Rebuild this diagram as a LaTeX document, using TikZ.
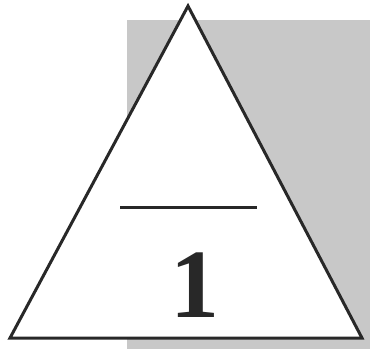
\documentclass[tikz,border=0pt]{standalone}
\usepackage{fontspec}
\setmainfont{Liberation Serif}
\definecolor{paper}{RGB}{200,200,200}
\definecolor{ink}{RGB}{40,40,40}
\tikzset{edge/.style={draw=ink,line width=3pt,line join=miter},
  digit/.style={font=\fontsize{98}{98}\selectfont\bfseries,text=ink,inner sep=0pt}}
\begin{document}
\begin{tikzpicture}[x=1pt,y=-1pt]
\useasboundingbox (0,0) rectangle (370,349);
\fill[paper] (127,20) rectangle (370,349);
\coordinate (apex) at (188,6);
\coordinate (bl) at (10,338);
\coordinate (br) at (362,338);
\filldraw[edge,fill=white] (apex) -- (br) -- (bl) -- cycle;
\coordinate (l1) at (120,207);
\coordinate (l2) at (257,207);
\draw[draw=ink,line width=3pt] (l1) -- (l2);
\node[digit,anchor=base] (one) at (195,317) {1};
\end{tikzpicture}
\end{document}
